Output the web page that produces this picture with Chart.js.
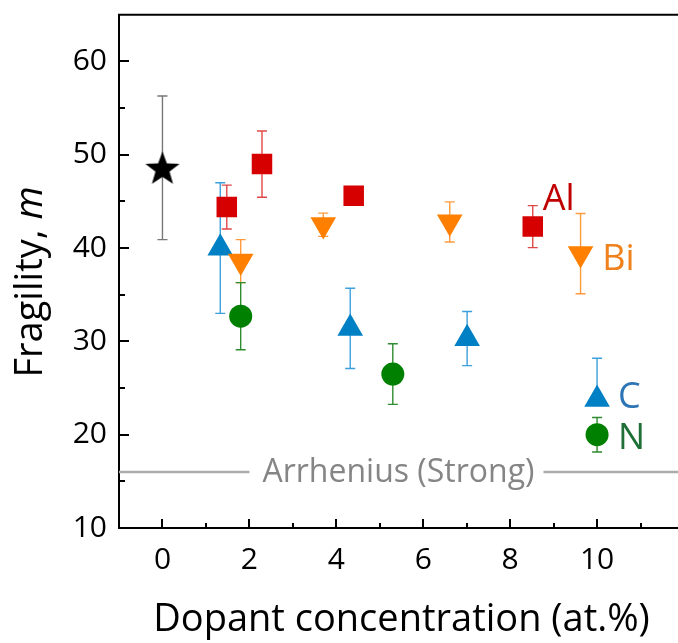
<!DOCTYPE html>
<html lang="en">
<head>
    <meta charset="UTF-8">
    <title>Fragility vs dopant concentration</title>
    <style>
        html, body {
            margin: 0;
            padding: 0;
            background: #ffffff;
            overflow: hidden;
        }
        #wrap {
            width: 700px;
            height: 643px;
        }
    </style>
    <script src="https://cdn.jsdelivr.net/npm/chart.js@4/dist/chart.umd.min.js"></script>
</head>
<body>
    <div id="wrap"><canvas id="fragChart" width="700" height="643"></canvas></div>
    <script>
        // undoped glass
        const baseX = [0];
        const baseY = [48.6];
        const baseErr = [7.7];

        // Al doped
        const alX = [1.48, 2.29, 4.4, 8.52];
        const alY = [44.4, 49.0, 45.6, 42.3];
        const alErr = [2.35, 3.55, 0.5, 2.25];

        // Bi doped
        const biX = [1.8, 3.7, 6.61, 9.62];
        const biY = [38.6, 42.5, 42.8, 39.4];
        const biErr = [2.3, 1.25, 2.15, 4.3];

        // C doped
        const cX = [1.33, 4.32, 7.01, 10.0];
        const cY = [40.0, 31.4, 30.3, 23.8];
        const cErrUp = [7.0, 4.3, 2.9, 4.4];
        const cErrDown = [7.0, 4.3, 2.9, 0.6];

        // N doped
        const nX = [1.8, 5.3, 10.0];
        const nY = [32.7, 26.5, 20.0];
        const nErr = [3.6, 3.25, 1.85];

        const arrheniusM = 16;

        const xTickLabels = [0, 2, 4, 6, 8, 10];
        const yTickLabels = [10, 20, 30, 40, 50, 60];

        const FONT = "'Open Sans', 'Noto Sans', sans-serif";

        function pts(xs, ys) {
            return xs.map((x, i) => ({ x: x, y: ys[i] }));
        }

        // filled five point star used for the undoped point
        function makeStar(outer, inner, color) {
            const c = document.createElement('canvas');
            const s = Math.ceil(outer * 2) + 2;
            c.width = s;
            c.height = s;
            const g = c.getContext('2d');
            g.translate(s / 2, s / 2 + 1.5);
            g.beginPath();
            for (let i = 0; i < 10; i++) {
                const r = i % 2 === 0 ? outer : inner;
                const a = -Math.PI / 2 + i * Math.PI / 5;
                const px = r * Math.cos(a), py = r * Math.sin(a);
                if (i === 0) g.moveTo(px, py); else g.lineTo(px, py);
            }
            g.closePath();
            g.fillStyle = color;
            g.fill();
            return c;
        }

        // error bars, drawn under the markers
        const errorBars = {
            id: 'errorBars',
            beforeDatasetsDraw(chart) {
                const ctx = chart.ctx;
                const xs = chart.scales.x, ys = chart.scales.y;
                const area = chart.chartArea;
                ctx.save();
                ctx.beginPath();
                ctx.rect(area.left, area.top, area.right - area.left, area.bottom - area.top);
                ctx.clip();
                chart.data.datasets.forEach(ds => {
                    if (!ds.errUp) return;
                    ctx.strokeStyle = ds.errColor;
                    ctx.lineWidth = 1.4;
                    ds.data.forEach((p, i) => {
                        const px = xs.getPixelForValue(p.x);
                        const top = ys.getPixelForValue(p.y + ds.errUp[i]);
                        const bot = ys.getPixelForValue(p.y - ds.errDown[i]);
                        ctx.beginPath();
                        ctx.moveTo(px, top);
                        ctx.lineTo(px, bot);
                        ctx.moveTo(px - 5, top);
                        ctx.lineTo(px + 5, top);
                        ctx.moveTo(px - 5, bot);
                        ctx.lineTo(px + 5, bot);
                        ctx.stroke();
                    });
                });
                ctx.restore();
            }
        };

        const seriesNames = [
            { text: 'Al', x: 8.75, y: 45.2, color: '#c00000' },
            { text: 'Bi', x: 10.12, y: 38.8, color: '#f0821e' },
            { text: 'C', x: 10.48, y: 24.0, color: '#2e75b6' },
            { text: 'N', x: 10.48, y: 19.6, color: '#1d6f36' }
        ];

        // frame, inward ticks, y title, series labels and the Arrhenius line
        const decorations = {
            id: 'decorations',
            afterDraw(chart) {
                const ctx = chart.ctx;
                const xs = chart.scales.x, ys = chart.scales.y;
                const a = chart.chartArea;
                ctx.save();
                ctx.strokeStyle = '#000';
                ctx.lineWidth = 2;
                ctx.beginPath();
                ctx.moveTo(a.left - 1, a.top);
                ctx.lineTo(a.right, a.top);
                ctx.stroke();

                for (let v = -1; v <= 12; v++) {
                    const px = Math.round(xs.getPixelForValue(v));
                    const len = v % 2 === 0 ? 9 : 5;
                    ctx.beginPath();
                    ctx.moveTo(px, a.bottom);
                    ctx.lineTo(px, a.bottom - len);
                    ctx.stroke();
                }
                for (let v = 15; v <= 60; v += 5) {
                    const py = Math.round(ys.getPixelForValue(v));
                    const len = v % 10 === 0 ? 10 : 6;
                    ctx.beginPath();
                    ctx.moveTo(a.left, py);
                    ctx.lineTo(a.left + len, py);
                    ctx.stroke();
                }

                // y axis title with italic m
                ctx.translate(31, 282);
                ctx.rotate(-Math.PI / 2);
                ctx.fillStyle = '#000';
                ctx.textBaseline = 'middle';
                const plain = 'Fragility, ';
                ctx.font = '38px ' + FONT;
                const w1 = ctx.measureText(plain).width;
                ctx.font = 'italic 38px ' + FONT;
                const w2 = ctx.measureText('m').width;
                ctx.font = '38px ' + FONT;
                ctx.textAlign = 'left';
                ctx.fillText(plain, -(w1 + w2) / 2, 0);
                ctx.font = 'italic 38px ' + FONT;
                ctx.fillText('m', -(w1 + w2) / 2 + w1, 0);
                ctx.restore();

                // Arrhenius reference with the label breaking the line
                ctx.save();
                const yA = ys.getPixelForValue(arrheniusM);
                const label = 'Arrhenius (Strong)';
                ctx.font = '32px ' + FONT;
                const tw = ctx.measureText(label).width;
                const cx = xs.getPixelForValue(5.43);
                ctx.strokeStyle = '#acacac';
                ctx.lineWidth = 2.4;
                ctx.beginPath();
                ctx.moveTo(a.left, yA);
                ctx.lineTo(cx - tw / 2 - 13, yA);
                ctx.moveTo(cx + tw / 2 + 9, yA);
                ctx.lineTo(a.right, yA);
                ctx.stroke();
                ctx.fillStyle = '#858585';
                ctx.textAlign = 'center';
                ctx.textBaseline = 'middle';
                ctx.fillText(label, cx, yA + 1);

                // series names beside their last points
                ctx.font = '36px ' + FONT;
                ctx.textAlign = 'left';
                seriesNames.forEach(s => {
                    ctx.fillStyle = s.color;
                    ctx.fillText(s.text, xs.getPixelForValue(s.x), ys.getPixelForValue(s.y));
                });
                ctx.restore();
            }
        };

        const ctx = document.getElementById('fragChart').getContext('2d');
        new Chart(ctx, {
            type: 'scatter',
            data: {
                datasets: [
                    {
                        label: 'Undoped',
                        data: pts(baseX, baseY),
                        pointStyle: makeStar(18, 7.4, '#000000'),
                        errUp: baseErr, errDown: baseErr, errColor: '#777777'
                    },
                    {
                        label: 'Bi',
                        data: pts(biX, biY),
                        pointStyle: 'triangle',
                        rotation: 180,
                        pointRadius: 14.8,
                        backgroundColor: '#ff8000',
                        borderWidth: 0,
                        errUp: biErr, errDown: biErr, errColor: '#ff9a3c'
                    },
                    {
                        label: 'Al',
                        data: pts(alX, alY),
                        pointStyle: 'rect',
                        pointRadius: 14.5,
                        backgroundColor: '#d60000',
                        borderWidth: 0,
                        errUp: alErr, errDown: alErr, errColor: '#e04848'
                    },
                    {
                        label: 'N',
                        data: pts(nX, nY),
                        pointStyle: 'circle',
                        pointRadius: 11.5,
                        backgroundColor: '#008000',
                        borderWidth: 0,
                        errUp: nErr, errDown: nErr, errColor: '#2e8b2e'
                    },
                    {
                        label: 'C',
                        data: pts(cX, cY),
                        pointStyle: 'triangle',
                        pointRadius: 14.8,
                        backgroundColor: '#0080c4',
                        borderWidth: 0,
                        errUp: cErrUp, errDown: cErrDown, errColor: '#3ca0dc'
                    }
                ]
            },
            options: {
                responsive: false,
                animation: false,
                events: [],
                layout: { padding: { top: 7, right: 16, left: 0, bottom: 0 } },
                plugins: {
                    legend: { display: false },
                    tooltip: { enabled: false }
                },
                scales: {
                    x: {
                        type: 'linear',
                        min: -1,
                        max: 12,
                        border: { display: true, color: '#000', width: 2 },
                        grid: { display: false, drawTicks: false },
                        ticks: {
                            stepSize: 1,
                            autoSkip: false,
                            maxRotation: 0,
                            padding: 14,
                            color: '#000',
                            font: { family: FONT, size: 30 },
                            callback: v => xTickLabels.includes(v) ? String(v) : ''
                        },
                        title: {
                            display: true,
                            text: 'Dopant concentration (at.%)',
                            color: '#000',
                            font: { family: FONT, size: 38 },
                            padding: { top: 0, bottom: 0 }
                        },
                        afterFit: s => {
                            s.height = 115;
                            s.paddingLeft = 0;
                            s.paddingRight = 0;
                        }
                    },
                    y: {
                        min: 10,
                        max: 65,
                        border: { display: true, color: '#000', width: 2 },
                        grid: { display: false, drawTicks: false },
                        ticks: {
                            stepSize: 5,
                            autoSkip: false,
                            padding: 12,
                            color: '#000',
                            font: { family: FONT, size: 30 },
                            callback: v => yTickLabels.includes(v) ? String(v) : ''
                        },
                        afterFit: s => {
                            s.width = 119;
                            s.paddingTop = 0;
                            s.paddingBottom = 0;
                        }
                    }
                }
            },
            plugins: [errorBars, decorations]
        });
    </script>
</body>
</html>
